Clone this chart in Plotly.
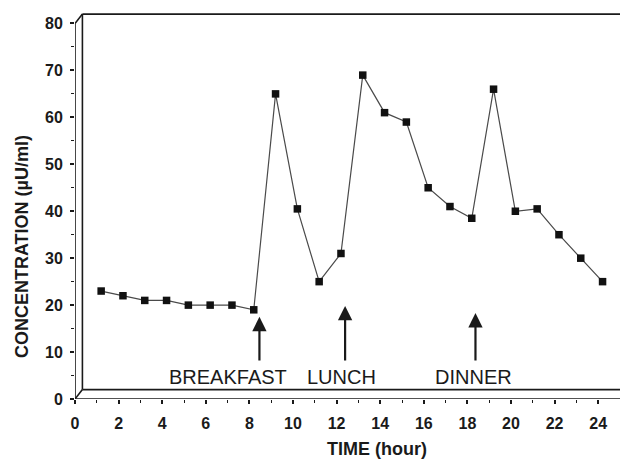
import plotly.graph_objects as go

# ---- data ----
hours = [1.2, 2.2, 3.2, 4.2, 5.2, 6.2, 7.2, 8.2, 9.2, 10.2, 11.2, 12.2,
         13.2, 14.2, 15.2, 16.2, 17.2, 18.2, 19.2, 20.2, 21.2, 22.2, 23.2, 24.2]
concentration = [23, 22, 21, 21, 20, 20, 20, 19, 65, 40.5, 25, 31,
                 69, 61, 59, 45, 41, 38.5, 66, 40, 40.5, 35, 30, 25]

meal_labels = ["BREAKFAST", "LUNCH", "DINNER"]
meal_label_x = [7.04, 12.21, 18.27]
meal_arrow_x = [8.46, 12.39, 18.37]
meal_arrow_tip = [17.5, 19.8, 18.3]
arrow_tail = 7.9
label_y = 4.6

x_ticks = list(range(0, 25, 2))
x_minor = list(range(1, 24, 2))
y_ticks = list(range(0, 81, 10))
y_minor = list(range(5, 80, 10))

X_MAX = 25
Y_MAX = 85
Y_TOP = 80
DX, DY = 0.34, 2  # offset of the back panel

FONT = "Liberation Sans, Arial, sans-serif"
INK = "#1a1a1a"

fig = go.Figure()
fig.add_trace(go.Scatter(
    x=hours, y=concentration, mode="lines+markers",
    line=dict(color="#4a4a4a", width=1.2),
    marker=dict(symbol="square", size=7.5, color="#111111"),
    showlegend=False, cliponaxis=False,
))

line_style = dict(color=INK, width=1.6)
shapes = [
    dict(type="line", xref="x", yref="y", x0=0, y0=0, x1=0, y1=Y_TOP, line=line_style),
    dict(type="line", xref="x", yref="y", x0=0, y0=0, x1=X_MAX, y1=0, line=line_style),
    dict(type="line", xref="x", yref="y", x0=0, y0=Y_TOP, x1=DX, y1=Y_TOP + DY, line=line_style),
    dict(type="line", xref="x", yref="y", x0=0, y0=0, x1=DX, y1=DY, line=line_style),
    dict(type="line", xref="x", yref="y", x0=DX, y0=DY, x1=DX, y1=Y_TOP + DY, line=line_style),
    dict(type="line", xref="x", yref="y", x0=DX, y0=Y_TOP + DY, x1=X_MAX, y1=Y_TOP + DY, line=line_style),
    dict(type="line", xref="x", yref="y", x0=DX, y0=DY, x1=X_MAX, y1=DY, line=line_style),
]

annotations = []
for lab, lx, ax_, tip in zip(meal_labels, meal_label_x, meal_arrow_x, meal_arrow_tip):
    annotations.append(dict(
        x=ax_, y=tip, ax=ax_, ay=arrow_tail, xref="x", yref="y", axref="x", ayref="y",
        text="", showarrow=True, arrowhead=2, arrowsize=1.3, arrowwidth=2.2,
        arrowcolor=INK,
    ))
    annotations.append(dict(
        x=lx, y=label_y, xref="x", yref="y", text=lab, showarrow=False,
        font=dict(family=FONT, size=20, color=INK), xanchor="center", yanchor="middle",
    ))

annotations.append(dict(
    x=-0.097, y=0.381, xref="paper", yref="paper", xanchor="center", yanchor="middle",
    text="CONCENTRATION (µU/ml)", textangle=-90, showarrow=False,
    font=dict(family=FONT, size=18, color=INK, weight="bold"),
))
annotations.append(dict(
    x=0.555, y=-0.125, xref="paper", yref="paper", xanchor="center", yanchor="middle",
    text="TIME (hour)", showarrow=False,
    font=dict(family=FONT, size=18, color=INK, weight="bold"),
))

fig.update_layout(
    width=620, height=461,
    margin=dict(l=75, r=0, t=0, b=62, autoexpand=False),
    paper_bgcolor="white", plot_bgcolor="white",
    shapes=shapes, annotations=annotations,
    xaxis=dict(
        range=[0, X_MAX], showgrid=False, zeroline=False, showline=False, automargin=False,
        tickmode="array", tickvals=x_ticks, ticktext=[str(v) for v in x_ticks],
        ticks="outside", ticklen=4, tickwidth=1.5, tickcolor=INK,
        minor=dict(tickmode="array", tickvals=x_minor, ticks="outside", ticklen=3,
                   tickwidth=1.2, tickcolor=INK),
        tickfont=dict(family=FONT, size=16, color=INK, weight="bold"),
        ticklabelstandoff=6,
    ),
    yaxis=dict(
        range=[0, Y_MAX], showgrid=False, zeroline=False, showline=False, automargin=False,
        tickmode="array", tickvals=y_ticks, ticktext=[str(v) for v in y_ticks],
        ticks="outside", ticklen=4, tickwidth=1.5, tickcolor=INK,
        minor=dict(tickmode="array", tickvals=y_minor, ticks="outside", ticklen=3,
                   tickwidth=1.2, tickcolor=INK),
        tickfont=dict(family=FONT, size=16, color=INK, weight="bold"),
        ticklabelstandoff=4,
    ),
)

fig.write_html("out.html", config={"displayModeBar": False},
               post_script="document.body.style.margin='0';")
